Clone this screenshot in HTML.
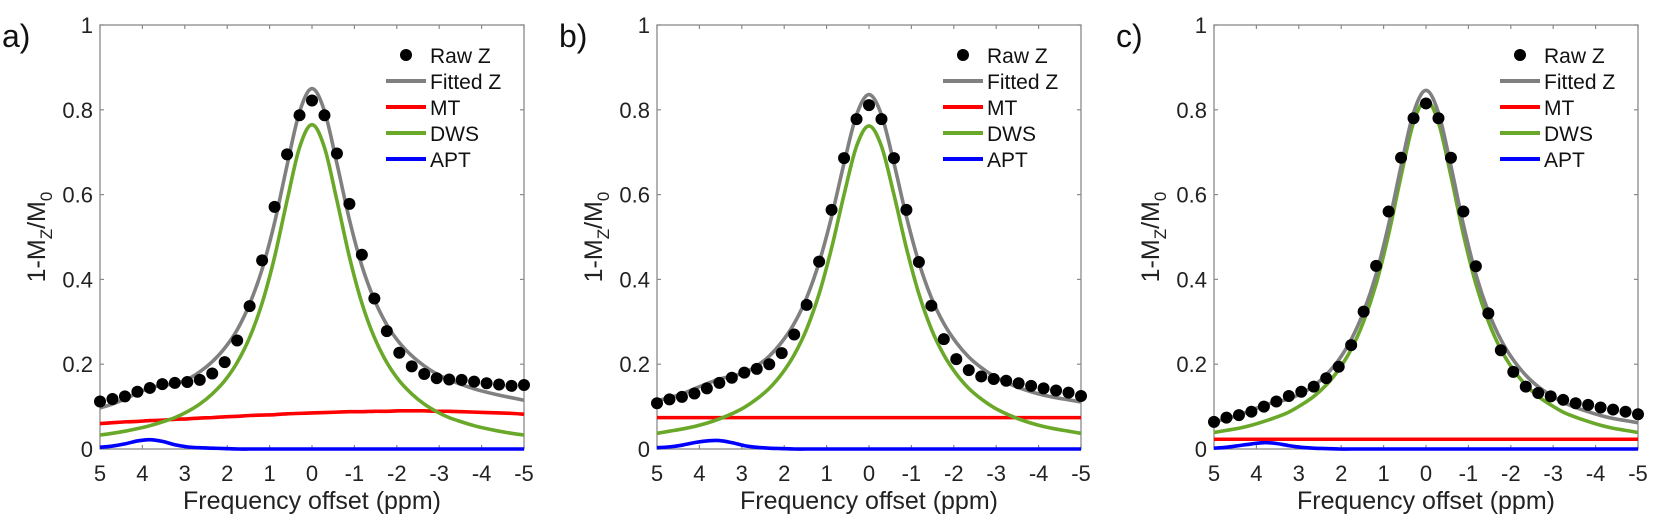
<!DOCTYPE html>
<html><head><meta charset="utf-8"><style>
body{margin:0;background:#fff;width:1654px;height:522px;overflow:hidden}
svg{font-family:"Liberation Sans",sans-serif}
</style></head><body>
<svg id="fig" width="1654" height="522"></svg>
<script>
const ppmTicks=[5,4,3,2,1,0,-1,-2,-3,-4,-5];
const yTicks=[0,0.2,0.4,0.6,0.8,1];
const yTickLabels=["0","0.2","0.4","0.6","0.8","1"];
const panelLabels=["a)","b)","c)"];
const nPoints=35;
const rawA=[0.112,0.118,0.124,0.135,0.144,0.153,0.156,0.158,0.163,0.178,0.205,0.256,0.337,0.445,0.571,0.695,0.787,0.822,0.787,0.697,0.578,0.458,0.355,0.278,0.227,0.195,0.177,0.167,0.164,0.163,0.159,0.155,0.152,0.149,0.151];
const fitA=[0.097,0.106,0.118,0.132,0.144,0.150,0.154,0.164,0.182,0.206,0.238,0.281,0.342,0.424,0.534,0.669,0.795,0.850,0.797,0.673,0.541,0.432,0.352,0.293,0.251,0.220,0.196,0.177,0.163,0.152,0.142,0.134,0.127,0.121,0.115];
const mtA=[0.060,0.062,0.064,0.065,0.067,0.068,0.070,0.071,0.073,0.074,0.076,0.077,0.079,0.080,0.081,0.083,0.084,0.085,0.086,0.087,0.088,0.088,0.089,0.089,0.090,0.090,0.090,0.089,0.089,0.088,0.087,0.086,0.085,0.084,0.082];
const dwsA=[0.033,0.037,0.042,0.048,0.055,0.064,0.074,0.088,0.106,0.130,0.161,0.204,0.263,0.344,0.453,0.586,0.711,0.765,0.711,0.586,0.453,0.344,0.263,0.204,0.161,0.130,0.106,0.088,0.074,0.064,0.055,0.048,0.042,0.037,0.033];
const aptA=[0.004,0.007,0.012,0.019,0.022,0.018,0.010,0.005,0.003,0.002,0.001,0,0,0,0,0,0,0,0,0,0,0,0,0,0,0,0,0,0,0,0,0,0,0,0];
const rawB=[0.108,0.117,0.123,0.131,0.143,0.156,0.168,0.180,0.189,0.200,0.226,0.270,0.340,0.442,0.564,0.686,0.778,0.811,0.778,0.686,0.564,0.441,0.338,0.259,0.212,0.186,0.171,0.165,0.161,0.155,0.149,0.143,0.138,0.133,0.125];
const fitB=[0.114,0.121,0.130,0.142,0.154,0.165,0.172,0.180,0.196,0.219,0.252,0.296,0.357,0.440,0.548,0.674,0.788,0.836,0.788,0.674,0.548,0.440,0.357,0.296,0.251,0.217,0.192,0.172,0.157,0.145,0.135,0.127,0.121,0.116,0.111];
const mtB=[0.074,0.074,0.074,0.074,0.074,0.074,0.074,0.074,0.074,0.074,0.074,0.074,0.074,0.074,0.074,0.074,0.074,0.074,0.074,0.074,0.074,0.074,0.074,0.074,0.074,0.074,0.074,0.074,0.074,0.074,0.074,0.074,0.074,0.074,0.074];
const dwsB=[0.037,0.042,0.047,0.053,0.061,0.071,0.083,0.098,0.118,0.143,0.177,0.222,0.283,0.366,0.474,0.600,0.714,0.762,0.714,0.600,0.474,0.366,0.283,0.222,0.177,0.143,0.118,0.098,0.083,0.071,0.061,0.053,0.047,0.042,0.037];
const aptB=[0.003,0.005,0.009,0.015,0.019,0.020,0.015,0.008,0.004,0.002,0.001,0,0,0,0,0,0,0,0,0,0,0,0,0,0,0,0,0,0,0,0,0,0,0,0];
const rawC=[0.064,0.074,0.080,0.088,0.100,0.112,0.125,0.135,0.147,0.167,0.194,0.245,0.324,0.432,0.560,0.687,0.780,0.815,0.780,0.687,0.560,0.431,0.320,0.233,0.182,0.147,0.132,0.124,0.116,0.108,0.104,0.098,0.093,0.088,0.082];
const fitC=[0.064,0.071,0.080,0.091,0.103,0.111,0.118,0.131,0.149,0.175,0.210,0.258,0.324,0.412,0.529,0.667,0.793,0.846,0.793,0.667,0.529,0.412,0.324,0.258,0.210,0.174,0.147,0.127,0.110,0.098,0.088,0.079,0.072,0.067,0.062];
const mtC=[0.023,0.023,0.023,0.023,0.023,0.023,0.023,0.023,0.023,0.023,0.023,0.023,0.023,0.023,0.023,0.023,0.023,0.023,0.023,0.023,0.023,0.023,0.023,0.023,0.023,0.023,0.023,0.023,0.023,0.023,0.023,0.023,0.023,0.023,0.023];
const dwsC=[0.039,0.044,0.049,0.056,0.065,0.075,0.087,0.104,0.124,0.151,0.187,0.235,0.301,0.389,0.506,0.644,0.770,0.823,0.770,0.644,0.506,0.389,0.301,0.235,0.187,0.151,0.124,0.104,0.087,0.075,0.065,0.056,0.049,0.044,0.039];
const aptC=[0.002,0.004,0.008,0.012,0.015,0.013,0.008,0.004,0.002,0.001,0,0,0,0,0,0,0,0,0,0,0,0,0,0,0,0,0,0,0,0,0,0,0,0,0];

const NS="http://www.w3.org/2000/svg";
const svg=document.getElementById('fig');
function mk(tag,attrs,parent){const e=document.createElementNS(NS,tag);for(const k in attrs)e.setAttribute(k,attrs[k]);(parent||svg).appendChild(e);return e;}
const panels=[
 {left:100,raw:rawA,fit:fitA,mt:mtA,dws:dwsA,apt:aptA,id:'a'},
 {left:657,raw:rawB,fit:fitB,mt:mtB,dws:dwsB,apt:aptB,id:'b'},
 {left:1214,raw:rawC,fit:fitC,mt:mtC,dws:dwsC,apt:aptC,id:'c'}];
const W=424,TOP=25,BOT=449;
function ppmAt(i){return 5-i*10/(nPoints-1);}
function smooth(pts){let d=`M${pts[0][0]},${pts[0][1]}`;for(let i=0;i<pts.length-1;i++){const p0=pts[Math.max(0,i-1)],p1=pts[i],p2=pts[i+1],p3=pts[Math.min(pts.length-1,i+2)];
 d+=` C${p1[0]+(p2[0]-p0[0])/6},${p1[1]+(p2[1]-p0[1])/6} ${p2[0]-(p3[0]-p1[0])/6},${p2[1]-(p3[1]-p1[1])/6} ${p2[0]},${p2[1]}`;}return d;}
panels.forEach((p,pi)=>{
 const L=p.left,R=L+W;
 const xs=v=>L+(5-v)/10*W;
 const ys=v=>BOT-v*(BOT-TOP);
 const g=mk('g',{});
 
 
 const lab=mk('text',{x:L-98,y:47,'font-size':32,fill:'#111'},g);lab.textContent=panelLabels[pi];
 
 
 const box=mk('rect',{x:L,y:TOP,width:W,height:BOT-TOP,fill:'none',stroke:'#8a8a8a','stroke-width':1.3},g);
 
 
 ppmTicks.forEach(t=>{const x=xs(t);
  mk('line',{x1:x,x2:x,y1:BOT,y2:BOT-4,stroke:'#8a8a8a','stroke-width':1.2},g);
  mk('line',{x1:x,x2:x,y1:TOP,y2:TOP+4,stroke:'#8a8a8a','stroke-width':1.2},g);
  const tl=mk('text',{x:x,y:481,'font-size':22,'text-anchor':'middle',fill:'#222'},g);tl.textContent=String(t);
  
  });
 yTicks.forEach((t,k)=>{const y=ys(t);
  mk('line',{x1:L,x2:L+4,y1:y,y2:y,stroke:'#8a8a8a','stroke-width':1.2},g);
  mk('line',{x1:R,x2:R-4,y1:y,y2:y,stroke:'#8a8a8a','stroke-width':1.2},g);
  const tl=mk('text',{x:L-7,y:y+8,'font-size':22,'text-anchor':'end',fill:'#222'},g);tl.textContent=yTickLabels[k];
  
  });
 const xl=mk('text',{x:L+W/2,y:509,'font-size':25,'text-anchor':'middle',fill:'#222'},g);xl.textContent='Frequency offset (ppm)';
 
 
 const yl=mk('text',{transform:`translate(${L-55},237) rotate(-90)`,'font-size':25,'text-anchor':'middle',fill:'#222'},g);
 yl.innerHTML='1-M<tspan font-size="17" dy="7">Z</tspan><tspan dy="-7">/M</tspan><tspan font-size="17" dy="7">0</tspan>';
 
 
 const series=[['mt',p.mt,'#ff0000'],['dws',p.dws,'#6aa82a'],['apt',p.apt,'#0000ff'],['fitted',p.fit,'#808080']];
 series.forEach(([nm,arr,col])=>{
  const pts=arr.map((v,i)=>[xs(ppmAt(i)),ys(v)]);
  const path=mk('path',{d:smooth(pts),fill:'none',stroke:col,'stroke-width':3.6,'stroke-linejoin':'round'},g);
  
  });
 p.raw.forEach((v,i)=>{const c=mk('circle',{cx:xs(ppmAt(i)),cy:ys(v),r:6,fill:'#000'},g);
  
  });
 const leg=mk('g',{},g);
 
 
 const entries=[['Raw Z',null],['Fitted Z','#808080'],['MT','#ff0000'],['DWS','#6aa82a'],['APT','#0000ff']];
 const rows=[55,81,107,133,159];
 entries.forEach(([t,col],k)=>{const y=rows[k];
  if(col)mk('line',{x1:R-138,x2:R-98,y1:y,y2:y,stroke:col,'stroke-width':4},leg);
  else mk('circle',{cx:R-118,cy:y,r:6,fill:'#000'},leg);
  const tx=mk('text',{x:R-94,y:y+8,'font-size':21,fill:'#111'},leg);tx.textContent=t;
  
  });
});
</script>
</body></html>
